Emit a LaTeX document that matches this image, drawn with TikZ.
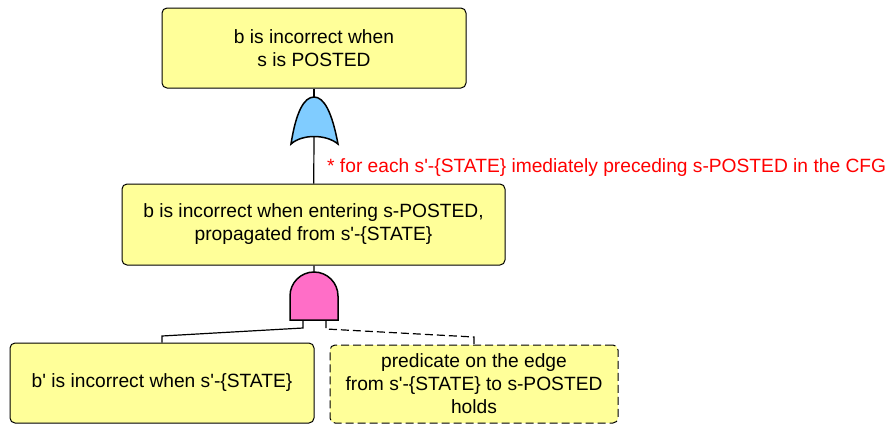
\documentclass[tikz,border=0pt]{standalone}
\usepackage{fontspec}
\setmainfont{Liberation Sans}
\usetikzlibrary{positioning}
\definecolor{evfill}{HTML}{FFFF99}
\definecolor{orfill}{HTML}{80CCFF}
\definecolor{andfill}{HTML}{FF6EC7}
\newcommand{\ap}{\textquotesingle}
\tikzset{
  ev/.style={draw=black,line width=1pt,fill=evfill,rounded corners=5pt,align=center,inner sep=0pt,font=\fontsize{19.2}{23}\selectfont},
  ln/.style={line width=1.2pt,black},
  dsh/.style={dash pattern=on 8pt off 4pt},
  gt/.style={draw=black,line width=1.5pt}
}
\begin{document}
\begin{tikzpicture}[x=1pt,y=-1pt]
\useasboundingbox (0,0) rectangle (892,424);
% events
\node[ev,minimum width=304pt,minimum height=80pt] (top) at (314,48) {b is incorrect when\\s is POSTED};
\node[ev,minimum width=383pt,minimum height=81pt] (mid) at (313.5,224.5) {b is incorrect when entering s-POSTED,\\propagated from s\ap-\{STATE\}};
\node[ev,minimum width=304pt,minimum height=80pt] (left) at (162,383) {b\ap{} is incorrect when s\ap-\{STATE\}};
\node[ev,dsh,minimum width=288pt,minimum height=78pt] (right) at (474,384) {predicate on the edge\\from s\ap-\{STATE\} to s-POSTED\\holds};
\node[anchor=west,text=red,inner sep=0pt,font=\fontsize{19.2}{23}\selectfont] (note) at (327,168) {* for each s\ap-\{STATE\} imediately preceding s-POSTED in the CFG};
% OR gate
\coordinate (ortop) at (314,97);
\coordinate (orbot) at (314,136.5);
\filldraw[gt,fill=orfill] (291,144) .. controls (296,112) and (304,97) .. (ortop)
  .. controls (324,97) and (332,112) .. (338,144)
  .. controls (326,134) and (302,134) .. cycle;
\draw[ln] (top) -- (ortop);
\draw[ln] (orbot) -- (mid);
% AND gate
\coordinate (andtop) at (314,272);
\coordinate (andl) at (303,320);
\coordinate (andr) at (326,320);
\filldraw[gt,fill=andfill] (290,320) -- (290,296) arc[start angle=180,end angle=0,radius=24pt] -- (338,320) -- cycle;
\draw[ln] (mid) -- (andtop);
\coordinate (lk) at (303,328);
\coordinate (lj) at (162,336);
\coordinate (rk) at (326,329);
\coordinate (rj) at (474,337);
\draw[ln] (andl) -- (lk) -- (lj) -- (left);
\draw[ln,dsh] (andr) -- (rk) -- (rj) -- (right);
\end{tikzpicture}
\end{document}
